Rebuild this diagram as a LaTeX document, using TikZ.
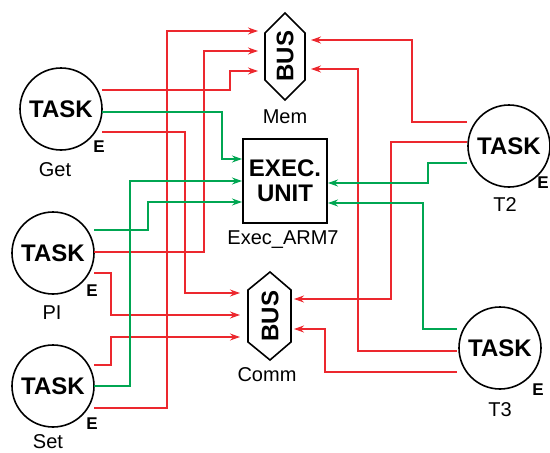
\documentclass[tikz,border=0pt]{standalone}
\usepackage{fontspec}
\setmainfont{Liberation Sans}
\usetikzlibrary{arrows.meta}
\definecolor{wirered}{RGB}{236,40,46}
\definecolor{wiregreen}{RGB}{0,166,82}

\begin{document}
\begin{tikzpicture}[x=1pt,y=-1pt,
    task/.style={circle,draw,line width=1.6pt,minimum size=82pt,inner sep=0pt,
        font=\fontsize{24}{24}\selectfont\bfseries},
    lbl/.style={font=\fontsize{20}{20}\selectfont},
    elbl/.style={font=\fontsize{17}{17}\selectfont\bfseries},
    busline/.style={draw,line width=1.6pt,line join=miter},
    bustext/.style={rotate=90,font=\fontsize{24}{24}\selectfont\bfseries},
    rw/.style={draw=wirered,line width=1.1pt,-{Stealth[length=10pt,width=7pt]}},
    gw/.style={draw=wiregreen,line width=1.1pt,-{Stealth[length=10pt,width=7pt]}}]
    \useasboundingbox (0,0) rectangle (550,453);

    % Задачи
    \node[task] (get) at (61,109) {TASK};
    \node[task] (pi) at (53,253) {TASK};
    \node[task] (set) at (53,386) {TASK};
    \node[task] (t2) at (509,146) {TASK};
    \node[task] (t3) at (500,348) {TASK};
    \node[elbl] (get-e) at (99,147) {E};
    \node[elbl] (pi-e) at (92,291) {E};
    \node[elbl] (set-e) at (92,424) {E};
    \node[elbl] (t2-e) at (543,183) {E};
    \node[elbl] (t3-e) at (538,390) {E};
    \node[lbl] (get-name) at (55,170) {Get};
    \node[lbl] (pi-name) at (52,313) {PI};
    \node[lbl] (set-name) at (48,442) {Set};
    \node[lbl] (t2-name) at (505,205) {T2};
    \node[lbl] (t3-name) at (500,410) {T3};

    % Шины
    \draw[busline] (285,13) -- (305,33) -- (305,80) -- (285,100) -- (265,80) -- (265,33) -- cycle;
    \node[bustext] (mem) at (285,56) {BUS};
    \node[lbl] (mem-name) at (285,117) {Mem};
    \draw[busline] (270,272) -- (291,290) -- (291,342) -- (270,360) -- (248,342) -- (248,290) -- cycle;
    \node[bustext] (comm) at (270,316) {BUS};
    \node[lbl] (comm-name) at (267,375) {Comm};

    % Исполнительный блок
    \node[draw,line width=1.6pt,minimum width=84pt,minimum height=84pt,inner sep=0pt,
        align=center,font=\fontsize{24}{25}\selectfont\bfseries] (exec) at (285,181) {EXEC.\\UNIT};
    \node[lbl] (exec-name) at (283,240) {Exec\_ARM7};

    % Точки подключения
    \coordinate (get-r1) at (102,90);
    \coordinate (get-g) at (102,112);
    \coordinate (get-r2) at (102,132);
    \coordinate (pi-g) at (94,230);
    \coordinate (pi-r1) at (94,252);
    \coordinate (pi-r2) at (94,273);
    \coordinate (set-r1) at (94,365);
    \coordinate (set-g) at (94,386);
    \coordinate (set-r2) at (94,408);
    \coordinate (t2-r1) at (467,122);
    \coordinate (t2-r2) at (467,142);
    \coordinate (t2-g) at (467,163);
    \coordinate (t3-g) at (457,329);
    \coordinate (t3-r1) at (457,351);
    \coordinate (t3-r2) at (457,372);
    \coordinate (mem-w1) at (258,31);
    \coordinate (mem-w2) at (258,51);
    \coordinate (mem-w3) at (258,71);
    \coordinate (mem-e1) at (311,40);
    \coordinate (mem-e2) at (311,69);
    \coordinate (comm-w1) at (240,293);
    \coordinate (comm-w2) at (240,315);
    \coordinate (comm-w3) at (240,337);
    \coordinate (comm-e1) at (294,299);
    \coordinate (comm-e2) at (294,329);
    \coordinate (exec-w1) at (242,159);
    \coordinate (exec-w2) at (242,181);
    \coordinate (exec-w3) at (242,202);
    \coordinate (exec-e1) at (328,183);
    \coordinate (exec-e2) at (328,203);

    % Красные связи
    \draw[rw] (get-r1) -- ++(128,0) |- (mem-w3);
    \draw[rw] (get-r2) -- ++(83,0) |- (comm-w1);
    \draw[rw] (pi-r1) -- ++(110,0) |- (mem-w2);
    \draw[rw] (pi-r2) -- ++(17,0) |- (comm-w2);
    \draw[rw] (set-r1) -- ++(17,0) |- (comm-w3);
    \draw[rw] (set-r2) -- ++(73,0) |- (mem-w1);
    \draw[rw] (t2-r1) -- ++(-55,0) |- (mem-e1);
    \draw[rw] (t2-r2) -- ++(-76,0) |- (comm-e1);
    \draw[rw] (t3-r1) -- ++(-99,0) |- (mem-e2);
    \draw[rw] (t3-r2) -- ++(-132,0) |- (comm-e2);

    % Зелёные связи
    \draw[gw] (get-g) -- ++(120,0) |- (exec-w1);
    \draw[gw] (set-g) -- ++(36,0) |- (exec-w2);
    \draw[gw] (pi-g) -- ++(54,0) |- (exec-w3);
    \draw[gw] (t2-g) -- ++(-39,0) |- (exec-e1);
    \draw[gw] (t3-g) -- ++(-34,0) |- (exec-e2);
\end{tikzpicture}
\end{document}
